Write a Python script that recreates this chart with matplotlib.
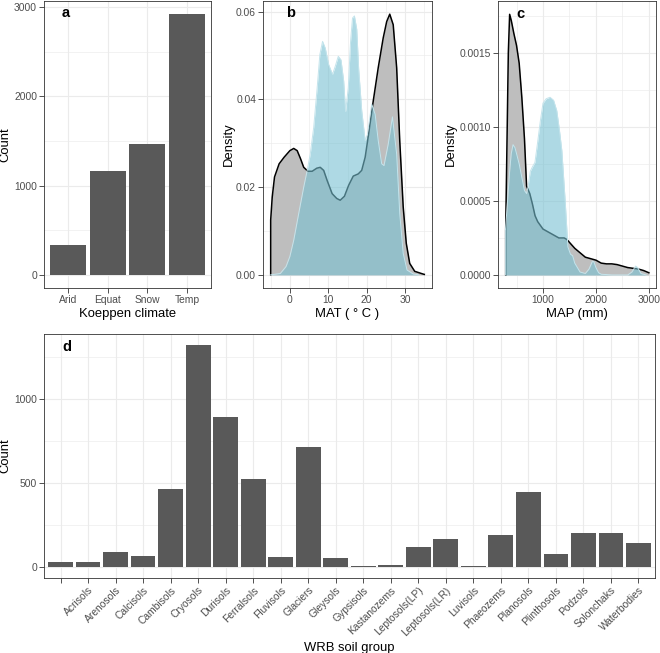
import matplotlib
matplotlib.use('Agg')
import matplotlib.pyplot as plt
from matplotlib.ticker import MultipleLocator

plt.rcParams['font.family'] = ['Liberation Sans', 'DejaVu Sans']

# a: Koeppen climate counts
climates = ['Arid', 'Equat', 'Snow', 'Temp']
climate_counts = [330, 1160, 1470, 2920]

# b: MAT densities (all sites vs sampled)
mat_all_x = [-5, -5, -4.6, -4.0, -2.8, -1.5, 0, 1.0, 1.9, 2.8, 3.6, 4.7, 5.8, 7.0, 7.9, 8.8, 9.7, 11.0,
             12.2, 13.1, 14.2, 15.3, 16.5, 17.8, 18.7, 19.6, 20.5, 21.7, 23.0, 24.3, 25.2, 26.0, 26.9,
             27.8, 28.6, 29.5, 30.3, 31.2, 32.5, 34.6, 35]
mat_all_y = [0, 0.0125, 0.0177, 0.0223, 0.0253, 0.0268, 0.0283, 0.0288, 0.0283, 0.0264, 0.0245, 0.0236,
             0.0236, 0.0243, 0.0245, 0.0238, 0.0215, 0.0185, 0.0174, 0.0170, 0.0179, 0.0204, 0.0225,
             0.0230, 0.0238, 0.0268, 0.0321, 0.0396, 0.0472, 0.0540, 0.0577, 0.0594, 0.0570, 0.0472,
             0.0306, 0.0155, 0.0072, 0.0026, 0.0008, 0.0002, 0.0001]
mat_sub_x = [-5, -2.5, -1, 0, 1, 2.3, 3.6, 4.5, 5.3, 6.2, 7.1, 7.8, 8.5, 9.2, 10.1, 11.1, 11.8, 12.6,
             13.3, 14.0, 14.5, 15.2, 15.8, 16.3, 16.8, 17.4, 17.9, 18.7, 19.6, 20.2, 21.3, 22.2, 23.0,
             23.9, 24.5, 25.6, 26.7, 27.8, 28.6, 29.5, 30.5, 32.1, 33.5]
mat_sub_y = [0, 0.0003, 0.0019, 0.0042, 0.0079, 0.014, 0.020, 0.0238, 0.0275, 0.0336, 0.0426, 0.0502,
             0.0532, 0.0517, 0.0479, 0.0457, 0.0475, 0.0498, 0.0490, 0.0442, 0.0372, 0.0426, 0.0532,
             0.0585, 0.0590, 0.0560, 0.0470, 0.0374, 0.0306, 0.0320, 0.0389, 0.0366, 0.0306, 0.0253,
             0.0249, 0.0298, 0.0360, 0.0275, 0.0140, 0.0049, 0.0011, 0.0002, 0]

# c: MAP densities
map_all_x = [295, 295, 320, 345, 370, 400, 450, 500, 550, 600, 650, 690, 750, 800, 850, 900, 1000,
             1100, 1200, 1300, 1400, 1450, 1500, 1600, 1700, 1800, 1900, 2000, 2100, 2200, 2300,
             2400, 2500, 2600, 2700, 2800, 2900, 3000]
map_all_y = [0, 0.0003, 0.0009, 0.0015, 0.00176, 0.00172, 0.00163, 0.00155, 0.00143, 0.0012, 0.00092,
             0.0006, 0.00055, 0.00048, 0.0004, 0.00036, 0.00031, 0.00029, 0.00027, 0.00025, 0.00025,
             0.00024, 0.00022, 0.00018, 0.00015, 0.00012, 0.00011, 0.0001, 0.00008, 0.000075,
             0.000075, 0.00007, 0.00006, 0.00005, 0.000045, 0.00004, 0.00003, 0.000015]
map_sub_x = [290, 290, 330, 370, 400, 434, 470, 500, 550, 600, 650, 690, 720, 760, 800, 848, 900, 950,
             1000, 1060, 1133, 1200, 1260, 1310, 1356, 1419, 1470, 1520, 1560, 1600, 1700, 1800, 1870,
             1930, 1960, 2000, 2050, 2100, 2300, 2600, 2680, 2750, 2790, 2850, 2950]
map_sub_y = [0, 0.0003, 0.0005, 0.0007, 0.00082, 0.00088, 0.00086, 0.00082, 0.00075, 0.00066, 0.00057,
             0.00055, 0.0006, 0.0007, 0.00073, 0.00076, 0.0009, 0.00104, 0.00116, 0.00119, 0.0012,
             0.00118, 0.00111, 0.00098, 0.00084, 0.0005, 0.00019, 0.00014, 0.00013, 0.00008, 0.00002,
             0.00001, 0.00004, 0.00009, 0.00009, 0.00005, 0.000015, 0.000005, 0, 0, 0.00002, 0.00006,
             0.00005, 0.00001, 0]

# d: WRB soil groups
soils = ['', 'Acrisols', 'Arenosols', 'Calcisols', 'Cambisols', 'Cryosols', 'Durisols', 'Ferralsols',
         'Fluvisols', 'Glaciers', 'Gleysols', 'Gypsisols', 'Kastanozems', 'Leptosols(LP)',
         'Leptosols(LR)', 'Luvisols', 'Phaeozems', 'Planosols', 'Plinthosols', 'Podzols',
         'Solonchaks', 'Waterbodies']
soil_counts = [32, 28, 91, 67, 462, 1318, 895, 521, 61, 712, 53, 6, 12, 120, 168, 8, 191, 446, 75,
               203, 203, 140]

W, H = 660, 653
BAR = '#595959'
GREY = '#bebebe'
BLUE = '#78c1d2'


def make_ax(l, t, r, b):
    ax = fig.add_axes([l / W, 1 - b / H, (r - l) / W, (b - t) / H])
    for s in ax.spines.values():
        s.set_color('#333333')
        s.set_linewidth(0.6)
    ax.tick_params(which='major', length=3.5, width=0.6, color='#333333',
                   labelsize=7.4, labelcolor='#4d4d4d', pad=1.5)
    ax.tick_params(which='minor', length=0)
    ax.grid(which='major', color='#ebebeb', lw=0.8)
    ax.grid(which='minor', color='#ebebeb', lw=0.45)
    ax.set_axisbelow(True)
    return ax


fig = plt.figure(figsize=(6.6, 6.53), dpi=100)

# panel a
ax = make_ax(44, 1, 211, 288)
pos = range(len(climates))
ax.bar(pos, climate_counts, width=0.9, color=BAR, zorder=2)
ax.set_xticks(list(pos))
ax.set_xticklabels(climates)
ax.set_xlim(-0.6, len(climates) - 0.4)
ax.set_ylim(-146, 3066)
ax.yaxis.set_major_locator(MultipleLocator(1000))
ax.yaxis.set_minor_locator(MultipleLocator(500))
ax.set_xlabel('Koeppen climate', fontsize=9.4)
ax.set_ylabel('Count', fontsize=9.4)
ax.xaxis.set_label_coords(0.5, -0.07)
ax.yaxis.set_label_coords(-0.195, 0.5)
ax.text(0.13, 0.958, 'a', transform=ax.transAxes, fontsize=10.5, fontweight='bold',
        ha='center', va='center')

# panel b
ax = make_ax(263, 1, 432, 288)
ax.fill_between(mat_all_x, mat_all_y, color=GREY, lw=0, zorder=2)
ax.plot(mat_all_x, mat_all_y, color='black', lw=1.1, zorder=3)
ax.fill_between(mat_sub_x, mat_sub_y, color=BLUE, alpha=0.6, lw=0, zorder=4)
ax.plot(mat_sub_x, mat_sub_y, color='#c4e4ec', lw=0.7, zorder=4)
ax.set_xlim(-7, 37)
ax.set_ylim(-0.003, 0.0624)
ax.xaxis.set_major_locator(MultipleLocator(10))
ax.xaxis.set_minor_locator(MultipleLocator(5))
ax.yaxis.set_major_locator(MultipleLocator(0.02))
ax.yaxis.set_minor_locator(MultipleLocator(0.01))
ax.yaxis.set_major_formatter(lambda v, p: '%.2f' % v)
ax.set_xlabel('MAT ( ° C )', fontsize=9.4)
ax.set_ylabel('Density', fontsize=9.4)
ax.xaxis.set_label_coords(0.5, -0.07)
ax.yaxis.set_label_coords(-0.166, 0.5)
ax.text(0.166, 0.958, 'b', transform=ax.transAxes, fontsize=10.5, fontweight='bold',
        ha='center', va='center')

# panel c
ax = make_ax(498, 1, 656, 288)
ax.fill_between(map_all_x, map_all_y, color=GREY, lw=0, zorder=2)
ax.plot(map_all_x, map_all_y, color='black', lw=1.1, zorder=3)
ax.fill_between(map_sub_x, map_sub_y, color=BLUE, alpha=0.6, lw=0, zorder=4)
ax.plot(map_sub_x, map_sub_y, color='#c4e4ec', lw=0.7, zorder=4)
ax.set_xlim(150, 3135)
ax.set_ylim(-0.000088, 0.00185)
ax.xaxis.set_major_locator(MultipleLocator(1000))
ax.xaxis.set_minor_locator(MultipleLocator(500))
ax.yaxis.set_major_locator(MultipleLocator(0.0005))
ax.yaxis.set_minor_locator(MultipleLocator(0.00025))
ax.yaxis.set_major_formatter(lambda v, p: '%.4f' % v)
ax.set_xlabel('MAP (mm)', fontsize=9.4)
ax.set_ylabel('Density', fontsize=9.4)
ax.xaxis.set_label_coords(0.5, -0.07)
ax.yaxis.set_label_coords(-0.258, 0.5)
ax.text(0.145, 0.955, 'c', transform=ax.transAxes, fontsize=10.5, fontweight='bold',
        ha='center', va='center')

# panel d
ax = make_ax(44, 334, 655, 578)
pos = range(len(soils))
ax.bar(pos, soil_counts, width=0.9, color=BAR, zorder=2)
ax.set_xticks(list(pos))
ax.set_xticklabels(soils, rotation=45, ha='right', va='top', rotation_mode='anchor')
ax.set_xlim(-0.6, len(soils) - 0.4)
ax.set_ylim(-66, 1386)
ax.yaxis.set_major_locator(MultipleLocator(500))
ax.yaxis.set_minor_locator(MultipleLocator(250))
ax.set_xlabel('WRB soil group', fontsize=9.4)
ax.set_ylabel('Count', fontsize=9.4)
ax.xaxis.set_label_coords(0.5, -0.262)
ax.yaxis.set_label_coords(-0.054, 0.5)
ax.text(0.038, 0.947, 'd', transform=ax.transAxes, fontsize=10.5, fontweight='bold',
        ha='center', va='center')

plt.savefig('out.png', dpi=100)
